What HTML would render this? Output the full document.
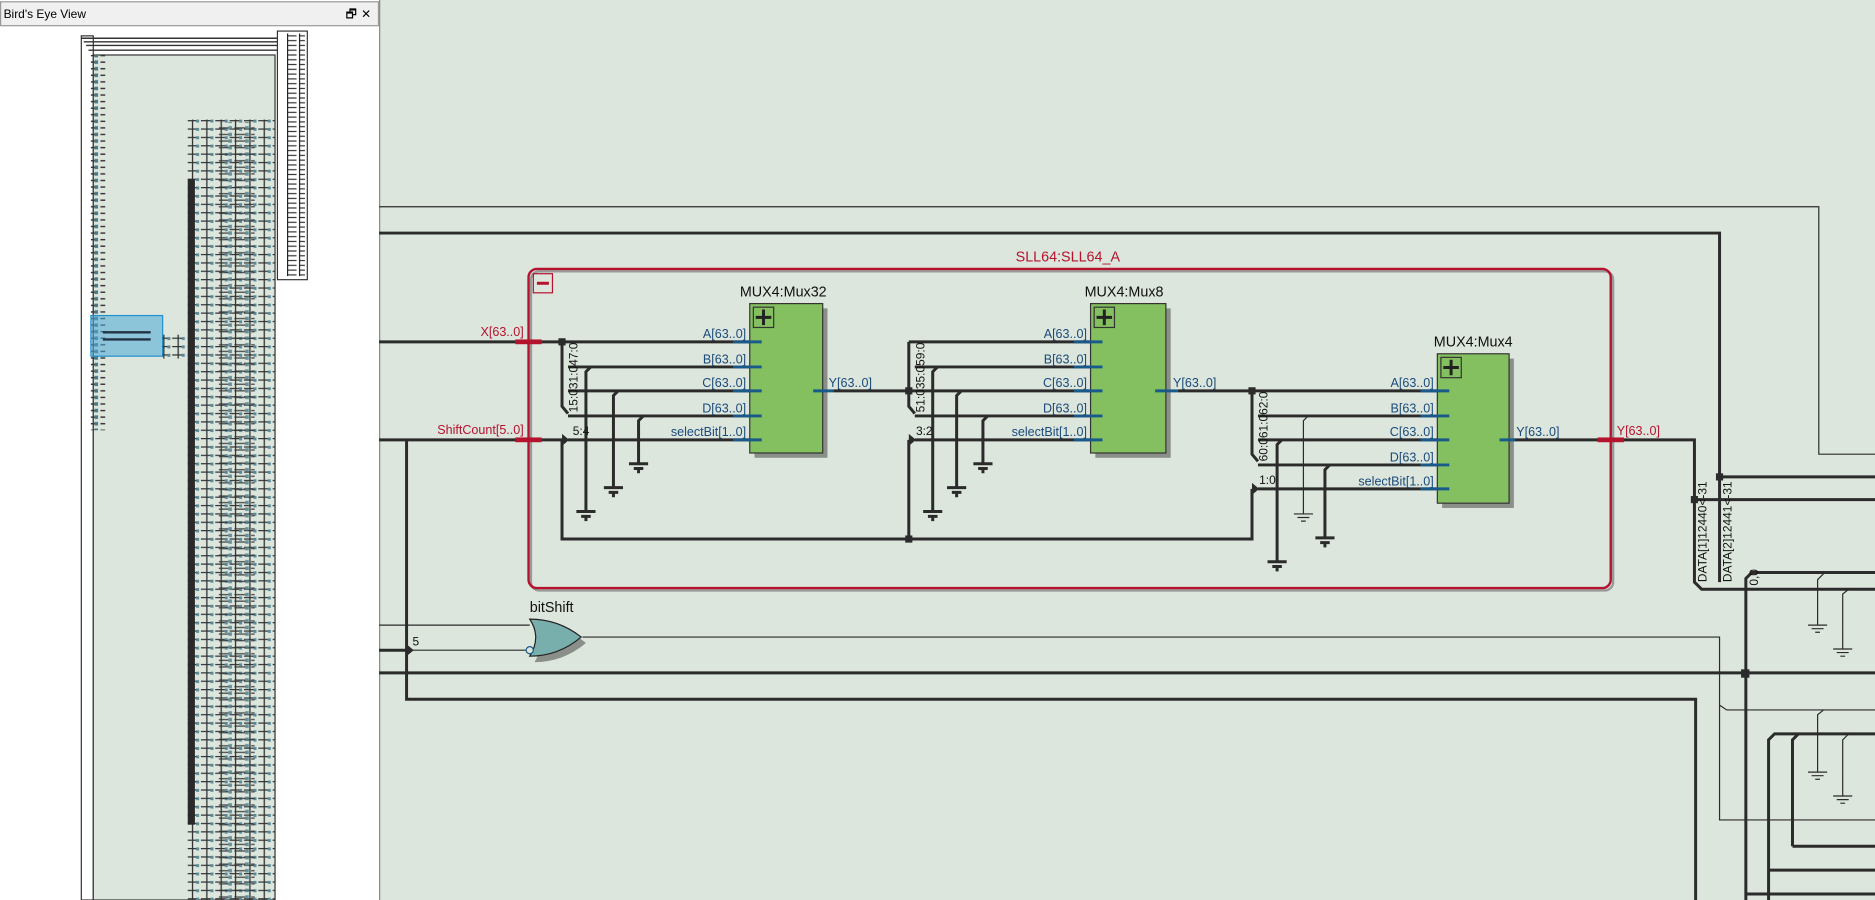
<!DOCTYPE html>
<html><head><meta charset="utf-8"><style>
html,body{margin:0;padding:0;width:1875px;height:900px;overflow:hidden;background:#fff}
svg{display:block}
text{font-family:"Liberation Sans","DejaVu Sans",sans-serif}
</style></head><body>
<svg width="1875" height="900" viewBox="0 0 1568 753" preserveAspectRatio="none" xmlns="http://www.w3.org/2000/svg">
<defs>
<pattern id="tk" x="0" y="0" width="14" height="5.5" patternUnits="userSpaceOnUse">
<path d="M0 2.5h10" stroke="#333" stroke-width="1.2"/><rect x="9" y="1" width="3" height="3" fill="#4a7a8a"/>
</pattern>
<pattern id="tk2" x="0" y="0" width="10" height="4" patternUnits="userSpaceOnUse">
<path d="M0 2h8" stroke="#333" stroke-width="1"/><path d="M0 0v4" stroke="#222" stroke-width="2"/>
</pattern>
<pattern id="grid" x="0" y="0" width="12" height="7" patternUnits="userSpaceOnUse">
<path d="M0 3h10M5 0v7" stroke="#333" stroke-width="1.1" fill="none"/><rect x="8" y="2" width="2.5" height="2.5" fill="#5a8a9a"/>
</pattern>
</defs>
<!-- left panel -->
<rect x="0" y="0" width="317" height="753" fill="#fff"/>
<rect x="0.5" y="1.5" width="316" height="20" fill="#f0f0f0" stroke="#999"/>
<text x="3" y="15" font-size="10" fill="#000">Bird's Eye View</text>
<text x="289" y="15" font-size="10" fill="#000">🗗</text>
<text x="302" y="15" font-size="10" fill="#000">✕</text>
<rect x="68" y="30" width="10" height="723" fill="#fff" stroke="#333"/>
<rect x="78" y="46" width="152" height="707" fill="#dce6dc" stroke="#333"/>
<path d="M68 32h170M70 35h170M72 38h168M74 42h166" stroke="#333" stroke-width="1.2" fill="none"/>
<rect x="76" y="46" width="12" height="314" fill="url(#tk)"/>
<rect x="157" y="100" width="73" height="653" fill="url(#grid)"/>
<rect x="157" y="150" width="6" height="540" fill="#2a2a2a"/>
<rect x="183" y="102" width="30" height="651" fill="url(#tk)" opacity="0.8"/>
<rect x="232" y="26" width="25" height="208" fill="#fff" stroke="#333"/>
<rect x="240" y="28" width="15" height="203" fill="url(#tk2)"/>
<rect x="76" y="264" width="60" height="34" fill="#4aa8d8" fill-opacity="0.55" stroke="#1e90d0"/>
<path d="M86 278h40M86 284h40" stroke="#234" stroke-width="2"/>
<rect x="136" y="280" width="20" height="20" fill="url(#grid)"/>
<rect x="317" y="0" width="1251" height="753" fill="#dde6dd"/>
<line x1="317.5" y1="0" x2="317.5" y2="753" stroke="#888"/>

<g fill="none" stroke="#2b2b2b">
<path d="M317 173H1521V380H1568" stroke-width="1"/>
<path d="M317 195H1438V487" stroke-width="2.5"/>
<path d="M1438 399H1568M1417 418H1568" stroke-width="2.5"/>
<path d="M1266 368H1417V487l6 6H1568" stroke-width="2.5"/>
<path d="M1460 753V484l5-5H1568" stroke-width="2.5"/>
<path d="M317 563H1568" stroke-width="2.5"/>
<path d="M340 368V585H1418V753" stroke-width="2.5"/>
<path d="M1479 753V619l5-5H1568M1499 708V619l5-5M1499 708H1568M1479 728H1568M1460 748H1568" stroke-width="2.5"/>
<path d="M1520 523V485l5-5M1541 543V497l5-4M1520 646V598l5-4M1541 666V619l5-5" stroke-width="1"/>
<path d="M487 533H1438V590l6 4H1568M1438 590V686H1568" stroke-width="1"/>
<path d="M317 523H443M345 544H440" stroke-width="1"/>
<path d="M317 544H340" stroke-width="2.5"/>
<path d="M317 286H627M470 286V340l5 6M475 307H627M475 327H627M475 348H627M475 368H627" stroke-width="2.5"/>
<path d="M490 428V311l4-4M513 408V331l4-4M534 388V352l4-4" stroke-width="2.5"/>
<path d="M317 368H470M470 368V451H1047V409M760 451V368" stroke-width="2.5"/>
<path d="M697 327H912M760 286H912M760 286V340l5 6M765 307H912M765 348H912M765 368H912" stroke-width="2.5"/>
<path d="M780 428V311l4-4M800 408V331l4-4M822 388V352l4-4" stroke-width="2.5"/>
<path d="M985 327H1202M1047 327V380l5 6M1052 348H1202M1052 389H1202M1052 409H1202M1052 368H1202" stroke-width="2.5"/>
<path d="M1068 470V372l4-4M1108 450V393l4-4" stroke-width="2.5"/>
<path d="M1090 430V352l4-4" stroke-width="1"/>
</g>
<g stroke="#2b2b2b" stroke-width="2.5">
<path d="M482 428h16M486 432h8M490 432v4"/><path d="M505 408h16M509 412h8M513 412v4"/><path d="M526 388h16M530 392h8M534 392v4"/>
<path d="M772 428h16M776 432h8M780 432v4"/><path d="M792 408h16M796 412h8M800 412v4"/><path d="M814 388h16M818 392h8M822 392v4"/>
<path d="M1060 470h16M1064 474h8M1068 474v4"/><path d="M1100 450h16M1104 454h8M1108 454v4"/>
</g>
<g stroke="#2b2b2b" stroke-width="1">
<path d="M1082 430h16M1085 433h10M1088 436h4"/>
<path d="M1512 523h16M1515 526h10M1518 529h4"/><path d="M1533 543h16M1536 546h10M1539 549h4"/>
<path d="M1512 646h16M1515 649h10M1518 652h4"/><path d="M1533 666h16M1536 669h10M1539 672h4"/>
</g>
<g fill="#2b2b2b">
<rect x="467" y="283" width="6" height="6"/><rect x="757" y="324" width="6" height="6"/><rect x="757" y="448" width="6" height="6"/>
<rect x="1044" y="324" width="6" height="6"/><rect x="1435" y="396" width="6" height="6"/><rect x="1414" y="415" width="6" height="6"/>
<rect x="1456" y="560" width="7" height="7"/>
<path d="M470 363l6 5-6 5z"/><path d="M760 363l6 5-6 5z"/><path d="M1047 404l6 5-6 5z"/><path d="M340 539l6 5-6 5z"/>
</g>
<rect x="444" y="227" width="905" height="267" rx="7" fill="none" stroke="#999" stroke-width="2"/>
<rect x="442" y="225" width="905" height="267" rx="7" fill="none" stroke="#b5122e" stroke-width="2"/>
<rect x="446" y="229" width="16" height="16" fill="none" stroke="#b5122e"/>
<path d="M449 237h10" stroke="#b5122e" stroke-width="2.5"/>
<text x="893" y="219" font-size="12" fill="#b5122e" text-anchor="middle">SLL64:SLL64_A</text>
<g fill="#b5122e"><rect x="431" y="284" width="22" height="4"/><rect x="431" y="366" width="22" height="4"/><rect x="1336" y="366" width="22" height="4"/></g>
<g font-size="10.5" fill="#b5122e"><text x="438" y="281" text-anchor="end">X[63..0]</text><text x="438" y="363" text-anchor="end">ShiftCount[5..0]</text><text x="1352" y="364">Y[63..0]</text></g>
<g stroke="#333">
<rect x="631" y="258" width="61" height="125" fill="#8a8f8a" stroke="none"/>
<rect x="627" y="254" width="61" height="125" fill="#84c060"/>
<rect x="916" y="258" width="63" height="125" fill="#8a8f8a" stroke="none"/>
<rect x="912" y="254" width="63" height="125" fill="#84c060"/>
<rect x="1206" y="300" width="60" height="125" fill="#8a8f8a" stroke="none"/>
<rect x="1202" y="296" width="60" height="125" fill="#84c060"/>
<rect x="630" y="257" width="17" height="17" fill="none"/><rect x="915" y="257" width="17" height="17" fill="none"/><rect x="1205" y="299" width="17" height="17" fill="none"/>
</g>
<g stroke="#222" stroke-width="2.5"><path d="M632 265.5h13M638.5 259v13M917 265.5h13M923.5 259v13M1207 307.5h13M1213.5 301v13"/></g>
<g stroke="#1a5a8a" stroke-width="2.5"><path d="M613 286h24M613 307h24M613 327h24M613 348h24M613 368h24M680 327h17M898 286h24M898 307h24M898 327h24M898 348h24M898 368h24M966 327h19M1188 327h24M1188 348h24M1188 368h24M1188 389h24M1188 409h24M1254 368h13"/></g>
<g font-size="12" fill="#111" text-anchor="middle"><text x="655" y="248">MUX4:Mux32</text><text x="940" y="248">MUX4:Mux8</text><text x="1232" y="290">MUX4:Mux4</text></g>
<g font-size="10.5" fill="#1a4a7a" text-anchor="end">
<text x="624" y="283">A[63..0]</text><text x="624" y="304">B[63..0]</text><text x="624" y="324">C[63..0]</text><text x="624" y="345">D[63..0]</text><text x="624" y="365">selectBit[1..0]</text>
<text x="909" y="283">A[63..0]</text><text x="909" y="304">B[63..0]</text><text x="909" y="324">C[63..0]</text><text x="909" y="345">D[63..0]</text><text x="909" y="365">selectBit[1..0]</text>
<text x="1199" y="324">A[63..0]</text><text x="1199" y="345">B[63..0]</text><text x="1199" y="365">C[63..0]</text><text x="1199" y="386">D[63..0]</text><text x="1199" y="406">selectBit[1..0]</text>
</g>
<g font-size="10.5" fill="#1a4a7a"><text x="693" y="324">Y[63..0]</text><text x="981" y="324">Y[63..0]</text><text x="1268" y="365">Y[63..0]</text></g>
<g font-size="10" fill="#111">
<text x="479" y="364">5:4</text><text x="766" y="364">3:2</text><text x="1053" y="405">1:0</text><text x="345" y="540">5</text>
<text transform="translate(483,345) rotate(-90)">15:031:047:0</text>
<text transform="translate(773,345) rotate(-90)">51:035:059:0</text>
<text transform="translate(1060,386) rotate(-90)">60:061:062:0</text>
<text transform="translate(1427,487) rotate(-90)">DATA[1]12440&lt;-31</text>
<text transform="translate(1448,487) rotate(-90)">DATA[2]12441&lt;-31</text>
<text transform="translate(1470,490) rotate(-90)">0,0</text>
</g>
<text x="443" y="512" font-size="12" fill="#111">bitShift</text>
<path d="M447 522q24 0 43 16q-19 16 -43 16q10 -16 0 -32z" fill="#8a8f8a"/>
<path d="M443 518q24 0 43 15q-19 16 -43 16q10 -16 0 -31z" fill="#78aeac" stroke="#222" stroke-width="1"/>
<circle cx="443" cy="544" r="3" fill="#dde6dd" stroke="#1a5a8a"/>
</svg>
</body></html>
